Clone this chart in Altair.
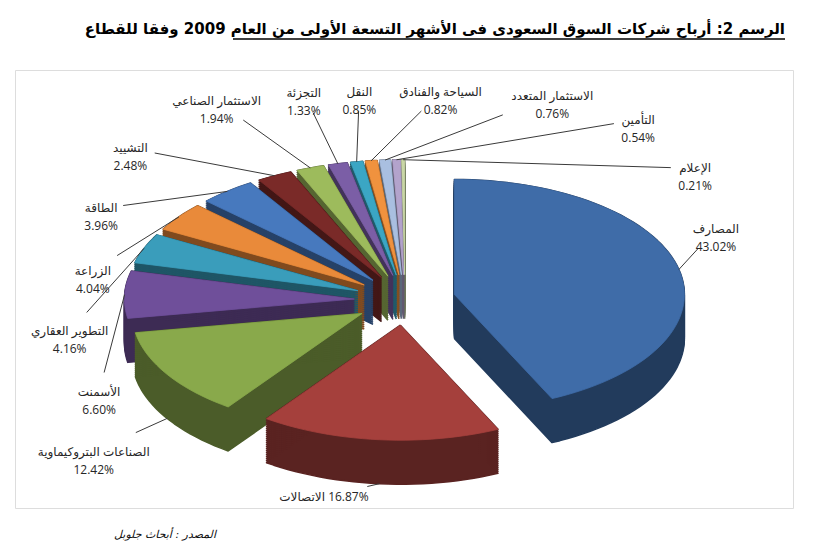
import math
import altair as alt
import pandas as pd

# ---- data ----
sectors = ["المصارف", "الاتصالات", "الصناعات البتروكيماوية", "الأسمنت",
           "التطوير العقاري", "الزراعة", "الطاقة", "التشييد",
           "الاستثمار الصناعي", "التجزئة", "النقل", "السياحة والفنادق",
           "الاستثمار المتعدد", "التأمين", "الإعلام"]
shares = [43.02, 16.87, 12.42, 6.60, 4.16, 4.04, 3.96, 2.48,
          1.94, 1.33, 0.85, 0.82, 0.76, 0.54, 0.21]
top_colors = ["#3F6CA8", "#A5403C", "#89A94B", "#6F4F9A", "#3A9DBB", "#E98A3A",
              "#4779BE", "#7A2A28", "#9DBB5C", "#7B5EA6", "#3BA6C4", "#F0923E",
              "#A9BFE0", "#B3A3CC", "#C9D7A6"]
title_text = "الرسم 2: أرباح شركات السوق السعودى فى الأشهر التسعة الأولى من العام 2009 وفقا للقطاع"
source_text = "المصدر : أبحاث جلوبل"

# ---- layout / style parameters ----
W, H = 778, 438
CX, CY = 390.0, 230.0
RA, RB = 230.0, 115.0
DEPTH = 44
EXPLODE = 0.22
LA0 = 290.0
LB_TOP, LB_BOT = 190.0, 188.0
LINE_H = 18
SQ = 0.6          # label ring shape (1 = ellipse, <1 = squarer)
PAD_X, PAD_Y = 12, 24
TAU = 2 * math.pi


def darken(hexc, f):
    r, g, b = (int(hexc[i:i + 2], 16) for i in (1, 3, 5))
    return "#%02x%02x%02x" % (int(r * f), int(g * f), int(b * f))


side_colors = [darken(c, 0.55) for c in top_colors]
n = len(shares)
total = sum(shares)

t0s, t1s, mids = [], [], []
acc = 0.0
for v in shares:
    t0 = TAU * acc / total
    acc += v
    t1 = TAU * acc / total
    t0s.append(t0)
    t1s.append(t1)
    mids.append((t0 + t1) / 2)

pct_text = [f"{v:.2f}%" for v in shares]


def is_bottom(th):
    return math.cos(th) < -0.93


def box_size(i, th):
    if is_bottom(th):
        return len(sectors[i]) * 5.8 + len(pct_text[i]) * 7.2 + 6, 18.0
    return max(len(sectors[i]) * 5.8, len(pct_text[i]) * 7.2) + 4, 2 * LINE_H


def sq(v):
    return math.copysign(abs(v) ** SQ, v)


def label_center(i, th):
    w, h = box_size(i, th)
    s, c = math.sin(th), math.cos(th)
    lb = LB_TOP if c >= 0 else LB_BOT
    return CX + sq(s) * (LA0 + w / 2), CY - sq(c) * (lb + h / 2)


# spread labels so that they do not overlap (computed from the values)
angles = list(mids)
for _ in range(6000):
    moved = False
    for i in range(n):
        for j in range(i + 1, n):
            xi, yi = label_center(i, angles[i])
            xj, yj = label_center(j, angles[j])
            wi, hi = box_size(i, angles[i])
            wj, hj = box_size(j, angles[j])
            if abs(xi - xj) < (wi + wj) / 2 + PAD_X and abs(yi - yj) < (hi + hj) / 2 + PAD_Y:
                d = (angles[j] - angles[i] + math.pi) % TAU - math.pi
                st = 0.004
                if d >= 0:
                    angles[i] -= st
                    angles[j] += st
                else:
                    angles[i] += st
                    angles[j] -= st
                moved = True
    if not moved:
        break

lx, ly, sx, sy, ex2, ey2, texts = [], [], [], [], [], [], []
for i in range(n):
    th = angles[i]
    cxl, cyl = label_center(i, th)
    w, h = box_size(i, th)
    tm = mids[i]
    px = CX + (1 + EXPLODE) * RA * math.sin(tm)
    py = CY - (1 + EXPLODE) * RB * math.cos(tm)
    if math.cos(tm) < -0.2:
        py += DEPTH
    dx, dy = px - cxl, py - cyl
    t = min((w / 2 + 2) / abs(dx) if abs(dx) > 1e-6 else 1e9,
            (h / 2 + 1) / abs(dy) if abs(dy) > 1e-6 else 1e9)
    lx.append(cxl)
    ly.append(cyl)
    sx.append(px)
    sy.append(py)
    ex2.append(cxl + t * dx)
    ey2.append(cyl + t * dy)
    if is_bottom(th):
        texts.append(sectors[i] + " \u200e" + pct_text[i])
    else:
        texts.append(sectors[i] + "\n" + pct_text[i])

base = pd.DataFrame({"idx": list(range(n)), "sector": sectors, "share": shares})
labels = pd.DataFrame({"idx": list(range(n)), "label": texts, "lx": lx, "ly": ly,
                       "sx": sx, "sy": sy, "ex": ex2, "ey": ey2})


# painter's order for the sides: back first
def front_key(i):
    lo = CY - EXPLODE * RB * math.cos(mids[i])
    m = max(-math.cos(t0s[i] + (t1s[i] - t0s[i]) * k / 50) for k in range(51))
    return lo + RB * max(m, 0)


side_order = sorted(range(n), key=front_key)

XS = alt.X("px:Q", scale=None, axis=None)


def slice_points(ch):
    return (ch.transform_calculate(ks="sequence(-1, datum.n + 2)")
            .transform_flatten(["ks"], as_=["k"])
            .transform_calculate(
                ang="datum.t0 + (datum.t1 - datum.t0) * clamp(datum.k, 0, datum.n) / datum.n",
                inside="datum.k < 0 || datum.k > datum.n")
            .transform_calculate(
                px=f"datum.inside ? datum.ex : datum.ex + {RA} * sin(datum.ang)",
                py=f"datum.inside ? datum.ey : datum.ey - {RB} * cos(datum.ang)"))


layers = []
for i in side_order:
    c = side_colors[i]
    ch = slice_points(alt.Chart().transform_filter(f"datum.idx == {i}"))
    ch = (ch.transform_calculate(ds=f"sequence(0, {DEPTH + 1}, 2)")
          .transform_flatten(["ds"], as_=["dep"])
          .transform_calculate(py2="datum.py + datum.dep")
          .mark_line(fill=c, stroke=c, strokeWidth=1.5, strokeJoin="round")
          .encode(x=XS, y=alt.Y("py2:Q", scale=None, axis=None),
                  detail="dep:N", order=alt.Order("k:Q")))
    layers.append(ch)

for i in range(n):
    c = top_colors[i]
    ch = slice_points(alt.Chart().transform_filter(f"datum.idx == {i}"))
    ch = (ch.mark_line(fill=c, stroke=c, strokeWidth=0.8, strokeJoin="round")
          .encode(x=XS, y=alt.Y("py:Q", scale=None, axis=None), order=alt.Order("k:Q")))
    layers.append(ch)

pie = alt.layer(*layers, data=base).transform_window(
    cum="sum(share)", sort=[alt.SortField("idx")], frame=[None, 0]
).transform_joinaggregate(total="sum(share)").transform_calculate(
    t0="2 * PI * (datum.cum - datum.share) / datum.total",
    t1="2 * PI * datum.cum / datum.total"
).transform_calculate(
    tm="(datum.t0 + datum.t1) / 2",
    n="ceil((datum.t1 - datum.t0) / (2 * PI) * 160) + 1"
).transform_calculate(
    ex=f"{CX} + {EXPLODE * RA} * sin(datum.tm)",
    ey=f"{CY} - {EXPLODE * RB} * cos(datum.tm)"
)

leaders = alt.Chart(labels).mark_rule(color="#3a3a3a", strokeWidth=1).encode(
    x=alt.X("sx:Q", scale=None, axis=None), y=alt.Y("sy:Q", scale=None, axis=None),
    x2="ex:Q", y2="ey:Q")

label_text = alt.Chart(labels).mark_text(
    font="Open Sans, DejaVu Sans", fontSize=12, color="#262626", align="center",
    baseline="middle", lineBreak="\n", lineHeight=LINE_H
).encode(x=alt.X("lx:Q", scale=None, axis=None), y=alt.Y("ly:Q", scale=None, axis=None),
         text="label:N")

title = alt.Chart(pd.DataFrame({"d": [0]})).mark_text(
    text=title_text, font="DejaVu Sans", fontSize=15, fontWeight="bold", color="#000",
    align="right", baseline="middle"
).encode(x=alt.value(770), y=alt.value(-41))

underline = alt.Chart(pd.DataFrame({"d": [0]})).mark_rule(color="#000", strokeWidth=1.5).encode(
    x=alt.value(218), x2=alt.value(770), y=alt.value(-31))

source = alt.Chart(pd.DataFrame({"d": [0]})).mark_text(
    text=source_text, font="DejaVu Sans", fontSize=11, fontStyle="italic", color="#111",
    align="center", baseline="middle"
).encode(x=alt.value(150), y=alt.value(465))

chart = alt.layer(pie, leaders, label_text, title, underline, source).properties(
    width=W, height=H,
    padding={"left": 7, "top": 62, "right": 10, "bottom": 40},
    autosize="none",
).configure_view(stroke="#8c8c8c", strokeWidth=1.2).configure(background="white")

chart.save("out.html", embed_options={"renderer": "svg", "actions": False})
